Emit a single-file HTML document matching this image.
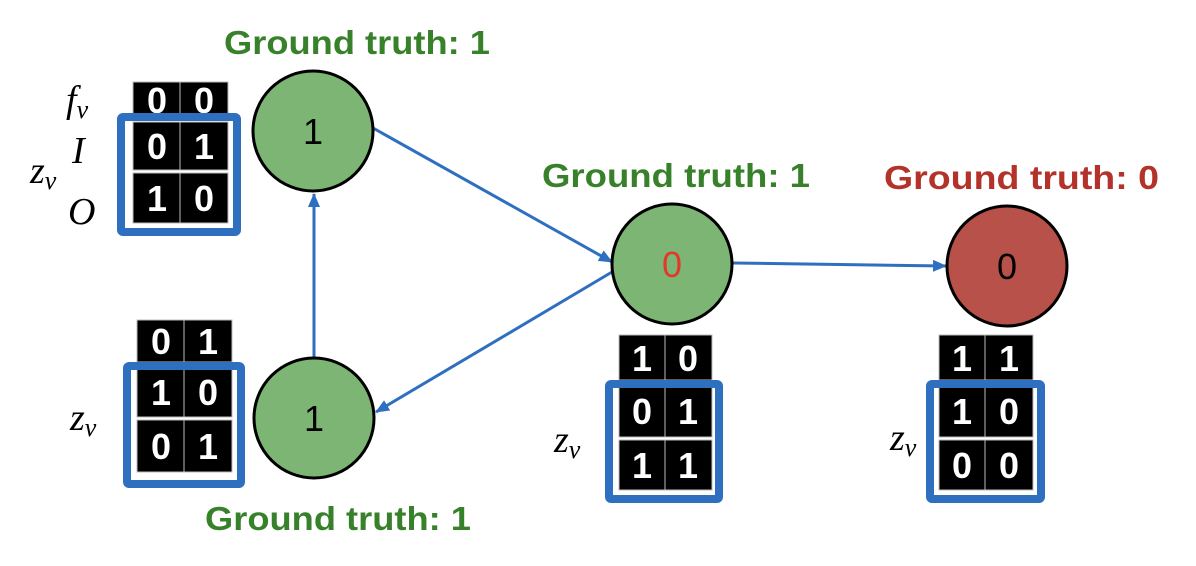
<!DOCTYPE html>
<html><head><meta charset="utf-8"><style>
html,body{margin:0;padding:0;background:#fff;width:1196px;height:566px;overflow:hidden}
</style></head><body>
<svg width="1196" height="566" xmlns="http://www.w3.org/2000/svg" font-family="Liberation Sans, sans-serif">
<defs>
<marker id="ah" markerWidth="14" markerHeight="14" refX="13" refY="6" orient="auto" markerUnits="userSpaceOnUse">
<path d="M0,0 L14,6 L0,12 z" fill="#2f6fbf"/></marker>
</defs>
<g font-weight="bold" font-size="33">
<text x="224" y="54" fill="#38812b" textLength="266" lengthAdjust="spacingAndGlyphs">Ground truth: 1</text>
<text x="542" y="187" fill="#38812b" textLength="268" lengthAdjust="spacingAndGlyphs">Ground truth: 1</text>
<text x="884" y="189" fill="#b3322a" textLength="275" lengthAdjust="spacingAndGlyphs">Ground truth: 0</text>
<text x="205" y="530" fill="#38812b" textLength="266" lengthAdjust="spacingAndGlyphs">Ground truth: 1</text>
</g>
<g stroke="#2f6fbf" stroke-width="3" fill="none" marker-end="url(#ah)">
<line x1="373" y1="128" x2="612" y2="262"/>
<line x1="612" y1="272" x2="376" y2="412"/>
<line x1="314" y1="358" x2="314" y2="194"/>
<line x1="733" y1="263" x2="946" y2="266"/>
</g>
<g stroke="#000" stroke-width="3">
<circle cx="313" cy="131" r="60" fill="#7db574"/>
<circle cx="314" cy="418" r="60" fill="#7db574"/>
<circle cx="672" cy="264" r="60" fill="#7db574"/>
<circle cx="1007" cy="266" r="60" fill="#b8514a"/>
</g>
<g font-size="36" text-anchor="middle">
<text x="313" y="144">1</text>
<text x="314" y="431">1</text>
<text x="672" y="277" fill="#e03a2a">0</text>
<text x="1007" y="279">0</text>
</g>
<g font-weight="bold" font-size="36" fill="#fff" text-anchor="middle">
<rect x="133" y="82" width="47" height="36" fill="#000" stroke="#bbb"/><rect x="180" y="82" width="48" height="36" fill="#000" stroke="#bbb"/>
<text x="157" y="113">0</text><text x="204" y="113">0</text>
<rect x="133" y="122" width="47" height="48" fill="#000" stroke="#bbb"/><rect x="180" y="122" width="48" height="48" fill="#000" stroke="#bbb"/>
<text x="157" y="159">0</text><text x="204" y="159">1</text>
<rect x="133" y="173" width="47" height="50" fill="#000" stroke="#bbb"/><rect x="180" y="173" width="48" height="50" fill="#000" stroke="#bbb"/>
<text x="157" y="211">1</text><text x="204" y="211">0</text>
<rect x="137" y="320" width="47" height="42" fill="#000" stroke="#bbb"/><rect x="184" y="320" width="48" height="42" fill="#000" stroke="#bbb"/>
<text x="161" y="354">0</text><text x="208" y="354">1</text>
<rect x="137" y="367" width="47" height="50" fill="#000" stroke="#bbb"/><rect x="184" y="367" width="48" height="50" fill="#000" stroke="#bbb"/>
<text x="161" y="405">1</text><text x="208" y="405">0</text>
<rect x="137" y="420" width="47" height="52" fill="#000" stroke="#bbb"/><rect x="184" y="420" width="48" height="52" fill="#000" stroke="#bbb"/>
<text x="161" y="459">0</text><text x="208" y="459">1</text>
<rect x="619" y="335" width="46" height="45" fill="#000" stroke="#bbb"/><rect x="665" y="335" width="47" height="45" fill="#000" stroke="#bbb"/>
<text x="642" y="371">1</text><text x="688" y="371">0</text>
<rect x="619" y="385" width="46" height="52" fill="#000" stroke="#bbb"/><rect x="665" y="385" width="47" height="52" fill="#000" stroke="#bbb"/>
<text x="642" y="424">0</text><text x="688" y="424">1</text>
<rect x="619" y="440" width="46" height="50" fill="#000" stroke="#bbb"/><rect x="665" y="440" width="47" height="50" fill="#000" stroke="#bbb"/>
<text x="642" y="478">1</text><text x="688" y="478">1</text>
<rect x="939" y="335" width="46" height="45" fill="#000" stroke="#bbb"/><rect x="985" y="335" width="48" height="45" fill="#000" stroke="#bbb"/>
<text x="962" y="371">1</text><text x="1009" y="371">1</text>
<rect x="939" y="385" width="46" height="52" fill="#000" stroke="#bbb"/><rect x="985" y="385" width="48" height="52" fill="#000" stroke="#bbb"/>
<text x="962" y="424">1</text><text x="1009" y="424">0</text>
<rect x="939" y="440" width="46" height="50" fill="#000" stroke="#bbb"/><rect x="985" y="440" width="48" height="50" fill="#000" stroke="#bbb"/>
<text x="962" y="478">0</text><text x="1009" y="478">0</text>
</g>
<g fill="none" stroke="#2f6fbf" stroke-width="8">
<rect x="121" y="117" width="116" height="115" rx="2"/>
<rect x="127" y="366" width="114" height="118" rx="2"/>
<rect x="609" y="384" width="110" height="115" rx="2"/>
<rect x="930" y="384" width="111" height="115" rx="2"/>
</g>
<g font-family="Liberation Serif, serif" font-style="italic" font-size="38" fill="#000">
<text x="66" y="112">f<tspan font-size="26" dy="6">v</tspan></text>
<text x="72" y="163">I</text>
<text x="30" y="183">z<tspan font-size="26" dy="6">v</tspan></text>
<text x="68" y="224">O</text>
<text x="70" y="430">z<tspan font-size="26" dy="6">v</tspan></text>
<text x="554" y="452">z<tspan font-size="26" dy="6">v</tspan></text>
<text x="890" y="450">z<tspan font-size="26" dy="6">v</tspan></text>
</g>
</svg>
</body></html>
